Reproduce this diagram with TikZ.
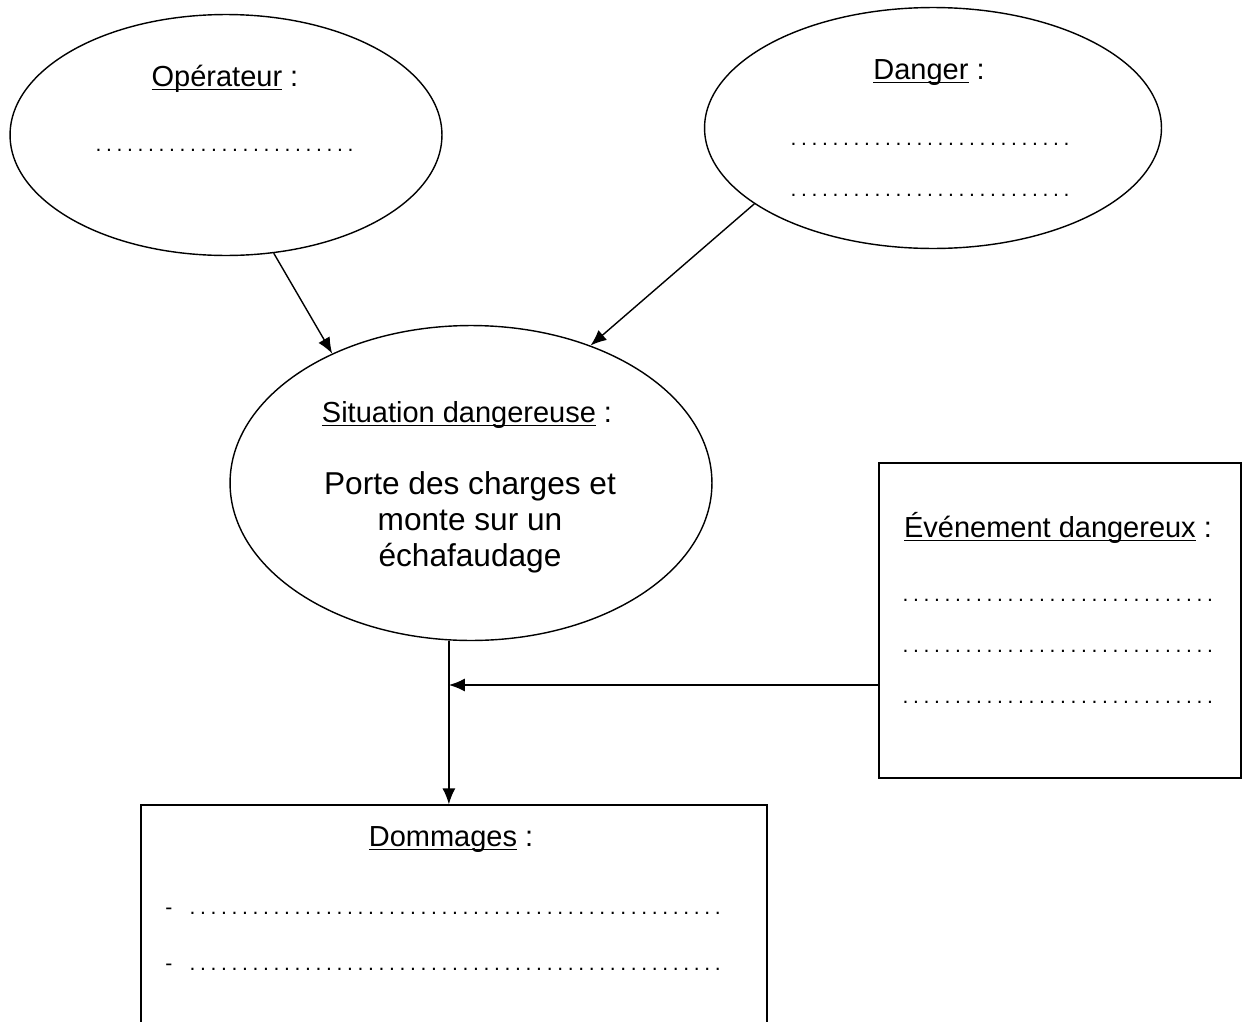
\documentclass[tikz,border=0pt]{standalone}
\usepackage{fontspec}
\setmainfont{Liberation Sans}
\usetikzlibrary{positioning,shapes.geometric,arrows.meta}

% ligne de pointilles de largeur donnee
\newcommand{\pointilles}[1]{\hbox to #1{\leaders\hbox to 0.21cm{\hss.\hss}\hfill}}
% soulignement serre sous la ligne de base
\newcommand{\souligne}[1]{\setbox0\hbox{#1}\rlap{\rule[-2.2pt]{\wd0}{0.6pt}}\box0\relax}

\begin{document}
\begin{tikzpicture}[
            x=0.02cm, y=-0.02cm,
            bulle/.style={ draw, ellipse, line width=0.8pt, inner sep=0pt },
            cadre/.style={ draw, rectangle, line width=0.8pt, inner sep=0pt },
            titre/.style={ font=\fontsize{16.5}{20}\selectfont, inner sep=0pt, anchor=base },
            texte/.style={ font=\fontsize{18}{22}\selectfont, inner sep=0pt, anchor=base },
            ligne/.style={ font=\fontsize{12}{14}\selectfont, inner sep=0pt, anchor=base west },
            fleche/.style={ -{Latex[length=3.2mm,width=2.6mm]}, line width=0.8pt }
        ]

        \clip (0,0) rectangle (1243,1021);

        % les trois bulles
        \node[bulle, minimum width=8.64cm, minimum height=4.82cm] (operateur) at (226,135) {};
        \node[bulle, minimum width=9.14cm, minimum height=4.82cm] (danger) at (933,128) {};
        \node[bulle, minimum width=9.64cm, minimum height=6.3cm] (situation) at (471,483) {};

        % les deux cadres
        \node[cadre, minimum width=7.24cm, minimum height=6.3cm] (evenement) at (1060,620.5) {};
        \node[cadre, minimum width=12.52cm, minimum height=5.1cm] (dommages) at (454,932.5) {};

        % textes
        \node[titre] (t-operateur) at (225,86) {\souligne{Opérateur} :};
        \node[ligne] (l-operateur) at (93,151) {\pointilles{5.34cm}};

        \node[titre] (t-danger) at (929,79) {\souligne{Danger} :};
        \node[ligne] (l-danger-1) at (788,145) {\pointilles{5.7cm}};
        \node[ligne] (l-danger-2) at (788,196) {\pointilles{5.7cm}};

        \node[titre] (t-situation) at (467,422) {\souligne{Situation dangereuse} :};
        \node[texte] (s-1) at (470,494) {Porte des charges et};
        \node[texte] (s-2) at (470,530) {monte sur un};
        \node[texte] (s-3) at (470,566) {échafaudage};

        \node[titre] (t-evenement) at (1058,537) {\souligne{Événement dangereux} :};
        \node[ligne] (l-evenement-1) at (900,601) {\pointilles{6.36cm}};
        \node[ligne] (l-evenement-2) at (900,652) {\pointilles{6.36cm}};
        \node[ligne] (l-evenement-3) at (900,703) {\pointilles{6.36cm}};

        \node[titre] (t-dommages) at (451,846) {\souligne{Dommages} :};
        \node[ligne] (l-dommages-1) at (165,914) {-\hspace{0.3cm}\pointilles{10.9cm}};
        \node[ligne] (l-dommages-2) at (165,970) {-\hspace{0.3cm}\pointilles{10.9cm}};

        % fleches
        \coordinate (hauteur) at (0,685);
        \coordinate (jonction) at (situation.-98 |- hauteur);

        \draw[fleche] (operateur.-68) -- (situation.137);
        \draw[fleche] (danger.203) -- (situation.49);
        \draw[fleche] (situation.-98) -- (situation.-98 |- dommages.north);
        \draw[fleche] (evenement.west |- hauteur) -- (jonction);
    \end{tikzpicture}
\end{document}
